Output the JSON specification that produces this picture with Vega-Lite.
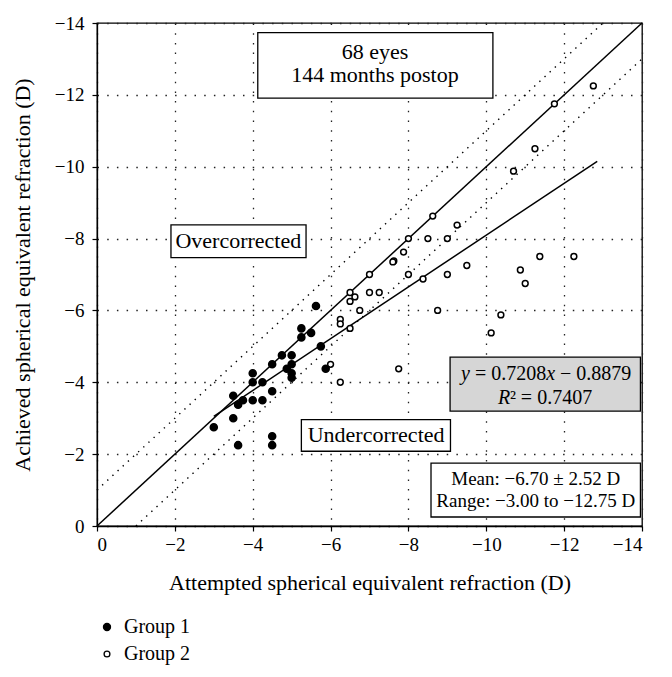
{
  "$schema": "https://vega.github.io/schema/vega-lite/v6.json",
  "width": 545,
  "height": 503,
  "autosize": {"type": "none"},
  "padding": {"left": 97, "top": 23, "right": 30, "bottom": 151},
  "background": "white",
  "config": {
    "font": "Liberation Serif",
    "view": {"stroke": "black", "strokeWidth": 1.3},
    "axis": {
      "domainColor": "black", "domainWidth": 1.3,
      "tickColor": "black", "tickSize": 5, "tickWidth": 1.2,
      "labelFont": "Liberation Serif", "titleFont": "Liberation Serif",
      "grid": true, "gridColor": "#222", "gridDash": [1.5, 8.2], "gridWidth": 1.3
    },
    "legend": {
      "labelFont": "Liberation Serif", "labelFontSize": 20, "labelColor": "black",
      "symbolStrokeWidth": 1.3, "symbolType": "circle",
      "rowPadding": 7, "labelOffset": 7, "padding": 0, "offset": 24
    }
  },
  "datasets": {
    "pts": [
      {"attempted": -5.625, "achieved": -6.125, "group": "Group 1"},
      {"attempted": -5.25, "achieved": -5.5, "group": "Group 1"},
      {"attempted": -5.5, "achieved": -5.375, "group": "Group 1"},
      {"attempted": -5.25, "achieved": -5.25, "group": "Group 1"},
      {"attempted": -5.75, "achieved": -5.0, "group": "Group 1"},
      {"attempted": -4.75, "achieved": -4.75, "group": "Group 1"},
      {"attempted": -5.0, "achieved": -4.75, "group": "Group 1"},
      {"attempted": -4.5, "achieved": -4.5, "group": "Group 1"},
      {"attempted": -5.0, "achieved": -4.5, "group": "Group 1"},
      {"attempted": -4.875, "achieved": -4.375, "group": "Group 1"},
      {"attempted": -5.0, "achieved": -4.25, "group": "Group 1"},
      {"attempted": -5.0, "achieved": -4.125, "group": "Group 1"},
      {"attempted": -5.875, "achieved": -4.375, "group": "Group 1"},
      {"attempted": -4.0, "achieved": -4.25, "group": "Group 1"},
      {"attempted": -4.0, "achieved": -4.0, "group": "Group 1"},
      {"attempted": -4.25, "achieved": -4.0, "group": "Group 1"},
      {"attempted": -4.5, "achieved": -3.75, "group": "Group 1"},
      {"attempted": -3.5, "achieved": -3.625, "group": "Group 1"},
      {"attempted": -3.75, "achieved": -3.5, "group": "Group 1"},
      {"attempted": -3.625, "achieved": -3.375, "group": "Group 1"},
      {"attempted": -4.0, "achieved": -3.5, "group": "Group 1"},
      {"attempted": -4.25, "achieved": -3.5, "group": "Group 1"},
      {"attempted": -3.5, "achieved": -3.0, "group": "Group 1"},
      {"attempted": -3.0, "achieved": -2.75, "group": "Group 1"},
      {"attempted": -4.5, "achieved": -2.5, "group": "Group 1"},
      {"attempted": -4.5, "achieved": -2.25, "group": "Group 1"},
      {"attempted": -3.625, "achieved": -2.25, "group": "Group 1"},
      {"attempted": -6.5, "achieved": -6.5, "group": "Group 2"},
      {"attempted": -6.5, "achieved": -6.25, "group": "Group 2"},
      {"attempted": -6.25, "achieved": -5.75, "group": "Group 2"},
      {"attempted": -6.25, "achieved": -5.625, "group": "Group 2"},
      {"attempted": -6.5, "achieved": -5.5, "group": "Group 2"},
      {"attempted": -6.0, "achieved": -4.5, "group": "Group 2"},
      {"attempted": -6.25, "achieved": -4.0, "group": "Group 2"},
      {"attempted": -12.75, "achieved": -12.25, "group": "Group 2"},
      {"attempted": -11.75, "achieved": -11.75, "group": "Group 2"},
      {"attempted": -11.25, "achieved": -10.5, "group": "Group 2"},
      {"attempted": -10.7, "achieved": -9.875, "group": "Group 2"},
      {"attempted": -9.25, "achieved": -8.375, "group": "Group 2"},
      {"attempted": -8.625, "achieved": -8.625, "group": "Group 2"},
      {"attempted": -9.0, "achieved": -8.0, "group": "Group 2"},
      {"attempted": -8.5, "achieved": -8.0, "group": "Group 2"},
      {"attempted": -8.0, "achieved": -8.0, "group": "Group 2"},
      {"attempted": -7.875, "achieved": -7.625, "group": "Group 2"},
      {"attempted": -7.625, "achieved": -7.375, "group": "Group 2"},
      {"attempted": -7.6, "achieved": -7.35, "group": "Group 2"},
      {"attempted": -7.0, "achieved": -7.0, "group": "Group 2"},
      {"attempted": -8.0, "achieved": -7.0, "group": "Group 2"},
      {"attempted": -9.0, "achieved": -7.0, "group": "Group 2"},
      {"attempted": -9.5, "achieved": -7.25, "group": "Group 2"},
      {"attempted": -8.375, "achieved": -6.875, "group": "Group 2"},
      {"attempted": -11.375, "achieved": -7.5, "group": "Group 2"},
      {"attempted": -12.25, "achieved": -7.5, "group": "Group 2"},
      {"attempted": -10.875, "achieved": -7.125, "group": "Group 2"},
      {"attempted": -11.0, "achieved": -6.75, "group": "Group 2"},
      {"attempted": -6.625, "achieved": -6.375, "group": "Group 2"},
      {"attempted": -7.0, "achieved": -6.5, "group": "Group 2"},
      {"attempted": -7.25, "achieved": -6.5, "group": "Group 2"},
      {"attempted": -6.75, "achieved": -6.0, "group": "Group 2"},
      {"attempted": -8.75, "achieved": -6.0, "group": "Group 2"},
      {"attempted": -10.375, "achieved": -5.875, "group": "Group 2"},
      {"attempted": -10.125, "achieved": -5.375, "group": "Group 2"},
      {"attempted": -7.75, "achieved": -4.375, "group": "Group 2"}
    ],
    "diag": [{"x": 0, "y": 0}, {"x": -14, "y": -14}],
    "dotted": [
      {"x": 0, "y": -1, "line": "upper"}, {"x": -13, "y": -14, "line": "upper"},
      {"x": -1, "y": 0, "line": "lower"}, {"x": -14, "y": -13, "line": "lower"}
    ],
    "reg": [{"x": -3.0, "y": -3.0503}, {"x": -12.85, "y": -10.1502}],
    "whiteBoxes": [
      {"x1": -4.13, "x2": -10.17, "y1": -13.73, "y2": -11.91},
      {"x1": -1.9, "x2": -5.37, "y1": -8.38, "y2": -7.47},
      {"x1": -5.25, "x2": -9.08, "y1": -2.96, "y2": -2.08},
      {"x1": -8.58, "x2": -13.96, "y1": -1.75, "y2": -0.25}
    ],
    "grayBoxes": [
      {"x1": -9.07, "x2": -13.96, "y1": -4.7, "y2": -3.2}
    ],
    "bigText": [
      {"x": -7.14, "y": -13.18, "label": "68 eyes"},
      {"x": -7.14, "y": -12.55, "label": "144 months postop"},
      {"x": -3.63, "y": -7.93, "label": "Overcorrected"},
      {"x": -7.17, "y": -2.52, "label": "Undercorrected"}
    ],
    "eqItalic": [
      {"x": -9.35, "y": -4.23, "label": "y"},
      {"x": -11.54, "y": -4.23, "label": "x"},
      {"x": -10.3, "y": -3.57, "label": "R"}
    ],
    "eqRoman": [
      {"x": -9.707, "y": -4.23, "label": "= 0.7208"},
      {"x": -11.895, "y": -4.23, "label": "− 0.8879"},
      {"x": -10.606, "y": -3.57, "label": "² = 0.7407"}
    ],
    "smallText": [
      {"x": -11.27, "y": -1.31, "label": "Mean: −6.70 ± 2.52 D"},
      {"x": -11.27, "y": -0.7, "label": "Range: −3.00 to −12.75 D"}
    ]
  },
  "layer": [
    {
      "data": {"name": "diag"},
      "mark": {"type": "line", "color": "black", "strokeWidth": 1.5},
      "encoding": {
        "x": {"field": "x", "type": "quantitative",
          "scale": {"domain": [0, -14], "nice": false},
          "axis": {"values": [0, -2, -4, -6, -8, -10, -12, -14], "format": "d",
            "labelFont": "Liberation Serif", "labelFontSize": 19, "labelColor": "black", "labelPadding": 4,
            "titleFont": "Liberation Serif", "titleFontSize": 22, "titleFontWeight": "normal", "titleColor": "black", "titlePadding": 18},
          "title": "Attempted spherical equivalent refraction (D)"},
        "y": {"field": "y", "type": "quantitative",
          "scale": {"domain": [0, -14], "nice": false},
          "axis": {"values": [0, -2, -4, -6, -8, -10, -12, -14], "format": "d",
            "labelFont": "Liberation Serif", "labelFontSize": 19, "labelColor": "black", "labelPadding": 8,
            "titleFont": "Liberation Serif", "titleFontSize": 22, "titleFontWeight": "normal", "titleColor": "black", "titlePadding": 20},
          "title": "Achieved spherical equivalent refraction (D)"}
      }
    },
    {
      "data": {"name": "dotted"},
      "mark": {"type": "line", "color": "black", "strokeWidth": 1.4, "strokeDash": [1.4, 5.6]},
      "encoding": {
        "x": {"field": "x", "type": "quantitative"},
        "y": {"field": "y", "type": "quantitative"},
        "detail": {"field": "line"}
      }
    },
    {
      "data": {"name": "reg"},
      "mark": {"type": "line", "color": "black", "strokeWidth": 1.5},
      "encoding": {
        "x": {"field": "x", "type": "quantitative"},
        "y": {"field": "y", "type": "quantitative"}
      }
    },
    {
      "data": {"name": "pts"},
      "mark": {"type": "point", "strokeWidth": 1.5, "opacity": 1, "shape": "circle"},
      "encoding": {
        "x": {"field": "attempted", "type": "quantitative"},
        "y": {"field": "achieved", "type": "quantitative"},
        "stroke": {"field": "group", "type": "nominal",
          "scale": {"domain": ["Group 1", "Group 2"], "range": ["black", "black"]},
          "legend": {"orient": "bottom", "direction": "vertical", "title": null}},
        "fill": {"field": "group", "type": "nominal",
          "scale": {"domain": ["Group 1", "Group 2"], "range": ["black", "white"]},
          "legend": {"orient": "bottom", "direction": "vertical", "title": null}},
        "size": {"field": "group", "type": "nominal",
          "scale": {"domain": ["Group 1", "Group 2"], "range": [50, 34]},
          "legend": {"orient": "bottom", "direction": "vertical", "title": null}}
      }
    },
    {
      "data": {"name": "whiteBoxes"},
      "mark": {"type": "rect", "fill": "white", "stroke": "black", "strokeWidth": 1.3},
      "encoding": {
        "x": {"field": "x1", "type": "quantitative"}, "x2": {"field": "x2"},
        "y": {"field": "y1", "type": "quantitative"}, "y2": {"field": "y2"}
      }
    },
    {
      "data": {"name": "grayBoxes"},
      "mark": {"type": "rect", "fill": "#d6d6d6", "stroke": "black", "strokeWidth": 1.3},
      "encoding": {
        "x": {"field": "x1", "type": "quantitative"}, "x2": {"field": "x2"},
        "y": {"field": "y1", "type": "quantitative"}, "y2": {"field": "y2"}
      }
    },
    {
      "data": {"name": "bigText"},
      "mark": {"type": "text", "font": "Liberation Serif", "fontSize": 22, "color": "black", "align": "center", "baseline": "middle"},
      "encoding": {
        "x": {"field": "x", "type": "quantitative"},
        "y": {"field": "y", "type": "quantitative"},
        "text": {"field": "label"}
      }
    },
    {
      "data": {"name": "eqItalic"},
      "mark": {"type": "text", "font": "Liberation Serif", "fontSize": 20, "fontStyle": "italic", "color": "black", "align": "left", "baseline": "middle"},
      "encoding": {
        "x": {"field": "x", "type": "quantitative"},
        "y": {"field": "y", "type": "quantitative"},
        "text": {"field": "label"}
      }
    },
    {
      "data": {"name": "eqRoman"},
      "mark": {"type": "text", "font": "Liberation Serif", "fontSize": 20, "color": "black", "align": "left", "baseline": "middle"},
      "encoding": {
        "x": {"field": "x", "type": "quantitative"},
        "y": {"field": "y", "type": "quantitative"},
        "text": {"field": "label"}
      }
    },
    {
      "data": {"name": "smallText"},
      "mark": {"type": "text", "font": "Liberation Serif", "fontSize": 19, "color": "black", "align": "center", "baseline": "middle"},
      "encoding": {
        "x": {"field": "x", "type": "quantitative"},
        "y": {"field": "y", "type": "quantitative"},
        "text": {"field": "label"}
      }
    }
  ]
}
